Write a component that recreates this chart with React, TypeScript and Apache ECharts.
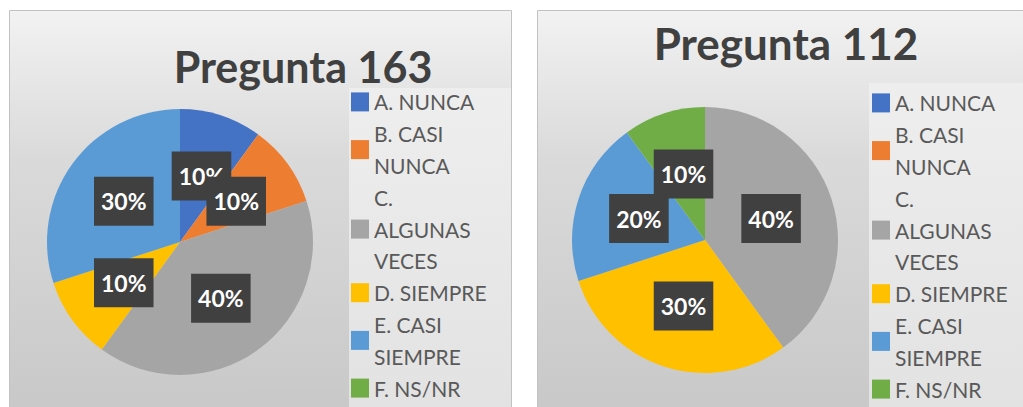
import React, { useEffect, useRef } from "react";
import * as echarts from "echarts";

const categories = [
  "A. NUNCA",
  "B. CASI NUNCA",
  "C. ALGUNAS VECES",
  "D. SIEMPRE",
  "E. CASI SIEMPRE",
  "F. NS/NR",
];
const legendText = [
  "A. NUNCA",
  "B. CASI\nNUNCA",
  "C.\nALGUNAS\nVECES",
  "D. SIEMPRE",
  "E. CASI\nSIEMPRE",
  "F. NS/NR",
];
const colors = ["#4472C4", "#ED7D31", "#A5A5A5", "#FFC000", "#5B9BD5", "#70AD47"];
const titles = ["Pregunta 163", "Pregunta 112"];
const values163 = [10, 10, 40, 10, 30, 0];
const values112 = [0, 0, 40, 30, 20, 10];

const FONT = "Lato, 'Open Sans', sans-serif";

function panelFill() {
  return new echarts.graphic.LinearGradient(0, 0, 0, 1, [
    { offset: 0, color: "#f2f2f2" },
    { offset: 0.35, color: "#dadada" },
    { offset: 1, color: "#c7c7c7" },
  ]);
}
function legendFill() {
  return new echarts.graphic.LinearGradient(0, 0, 0, 1, [
    { offset: 0, color: "#eeeeee" },
    { offset: 1, color: "#e2e2e2" },
  ]);
}

function pieSeries(values: number[], center: [number, number]) {
  return {
    type: "pie",
    center,
    radius: 133,
    startAngle: 90,
    clockwise: true,
    avoidLabelOverlap: false,
    labelLayout: { hideOverlap: false },
    emphasis: { disabled: true },
    labelLine: { show: false },
    itemStyle: { borderWidth: 0 },
    label: {
      show: true,
      position: "inside",
      formatter: (p: any) => Math.round(p.percent) + "%",
      color: "#ffffff",
      fontFamily: FONT,
      fontWeight: "bold",
      fontSize: 23,
      lineHeight: 25,
      backgroundColor: "#404040",
      padding: [12, 7, 12, 7],
    },
    data: categories.map((name, i) => ({
      name,
      value: values[i],
      itemStyle: { color: colors[i] },
      label: { show: values[i] > 0 },
    })),
  };
}

function legendOpt(left: number, top: number) {
  return {
    orient: "vertical",
    left,
    top,
    padding: 0,
    itemGap: 0,
    itemWidth: 18,
    itemHeight: 19,
    icon: "rect",
    selectedMode: false,
    data: categories,
    formatter: (name: string) => legendText[categories.indexOf(name)],
    textStyle: {
      fontFamily: FONT,
      fontSize: 21,
      color: "#595959",
      lineHeight: 31.8,
    },
  };
}

export default function App() {
  const ref = useRef<HTMLDivElement>(null);
  useEffect(() => {
    if (!ref.current) return;
    const chart = echarts.init(ref.current, undefined, { renderer: "svg" });
    chart.setOption({
      animation: false,
      backgroundColor: "#ffffff",
      graphic: [
        {
          type: "rect",
          z: -10,
          shape: { x: 9.5, y: 10.5, width: 502, height: 420 },
          style: { fill: panelFill(), stroke: "#c2c2c2", lineWidth: 1 },
        },
        {
          type: "rect",
          z: -10,
          shape: { x: 537.5, y: 10.5, width: 500, height: 420 },
          style: { fill: panelFill(), stroke: "#c2c2c2", lineWidth: 1 },
        },
        {
          type: "rect",
          z: -9,
          shape: { x: 349, y: 88, width: 162, height: 330 },
          style: { fill: legendFill() },
        },
        {
          type: "rect",
          z: -9,
          shape: { x: 869, y: 83, width: 160, height: 330 },
          style: { fill: legendFill() },
        },
        {
          type: "text",
          x: 303,
          y: 66,
          style: {
            text: titles[0],
            fontFamily: FONT,
            fontWeight: "bold",
            fontSize: 43,
            fill: "#404040",
            textAlign: "center",
            textVerticalAlign: "middle",
          },
        },
        {
          type: "text",
          x: 786,
          y: 43,
          style: {
            text: titles[1],
            fontFamily: FONT,
            fontWeight: "bold",
            fontSize: 44,
            fill: "#404040",
            textAlign: "center",
            textVerticalAlign: "middle",
          },
        },
      ],
      legend: [legendOpt(351, 86), legendOpt(872, 87)],
      series: [pieSeries(values163, [180, 242]), pieSeries(values112, [705, 240])],
    });
    return () => chart.dispose();
  }, []);
  return (
    <div
      ref={ref}
      style={{ position: "absolute", left: 0, top: 0, width: 1023, height: 407 }}
    />
  );
}
